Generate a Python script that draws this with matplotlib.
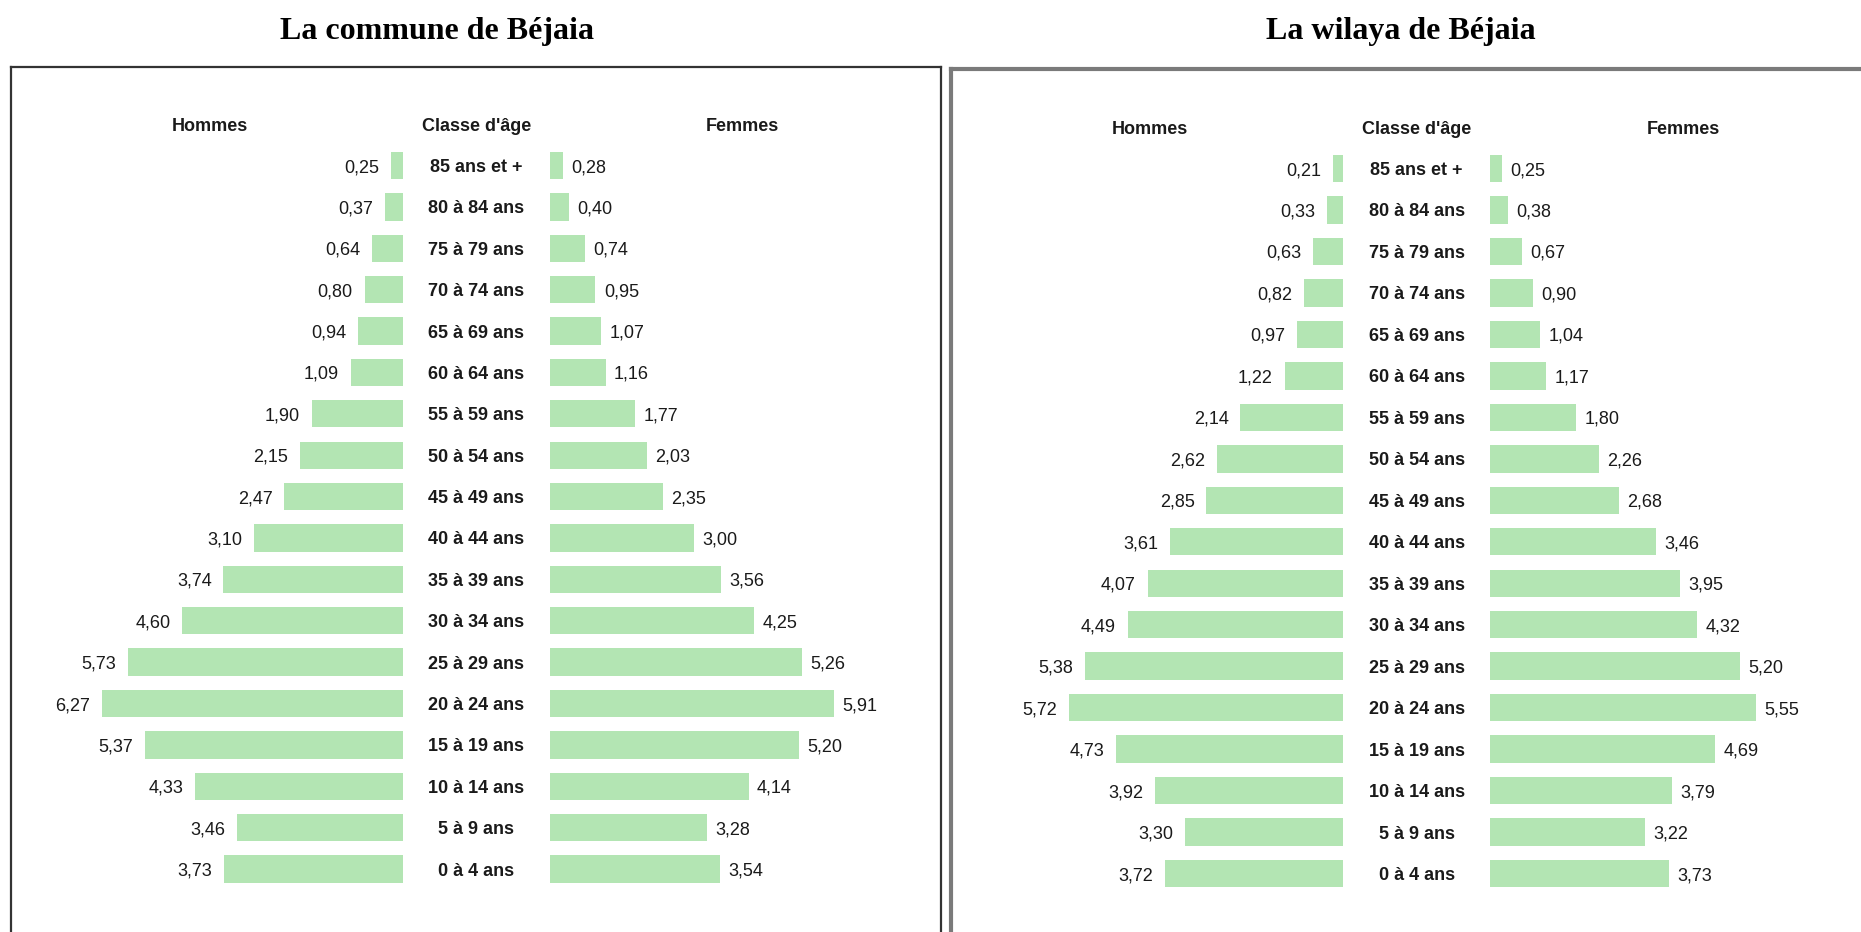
import matplotlib
matplotlib.use("Agg")
import matplotlib.pyplot as plt

# Age pyramid data (% of population)
age_classes = ["85 ans et +", "80 à 84 ans", "75 à 79 ans", "70 à 74 ans", "65 à 69 ans",
               "60 à 64 ans", "55 à 59 ans", "50 à 54 ans", "45 à 49 ans", "40 à 44 ans",
               "35 à 39 ans", "30 à 34 ans", "25 à 29 ans", "20 à 24 ans", "15 à 19 ans",
               "10 à 14 ans", "5 à 9 ans", "0 à 4 ans"]

commune_hommes = [0.25, 0.37, 0.64, 0.80, 0.94, 1.09, 1.90, 2.15, 2.47, 3.10,
                  3.74, 4.60, 5.73, 6.27, 5.37, 4.33, 3.46, 3.73]
commune_femmes = [0.28, 0.40, 0.74, 0.95, 1.07, 1.16, 1.77, 2.03, 2.35, 3.00,
                  3.56, 4.25, 5.26, 5.91, 5.20, 4.14, 3.28, 3.54]

wilaya_hommes = [0.21, 0.33, 0.63, 0.82, 0.97, 1.22, 2.14, 2.62, 2.85, 3.61,
                 4.07, 4.49, 5.38, 5.72, 4.73, 3.92, 3.30, 3.72]
wilaya_femmes = [0.25, 0.38, 0.67, 0.90, 1.04, 1.17, 1.80, 2.26, 2.68, 3.46,
                 3.95, 4.32, 5.20, 5.55, 4.69, 3.79, 3.22, 3.73]

titles = ["La commune de Béjaia", "La wilaya de Béjaia"]
headers = ["Hommes", "Classe d'âge", "Femmes"]

W, H = 1861, 932
DPI = 100
fig = plt.figure(figsize=(W / DPI, H / DPI), dpi=DPI)
fig.patch.set_facecolor("white")

BAR_COLOR = "#b3e5b3"
TEXT_COLOR = "#1a1a1a"
SANS = ["Liberation Sans", "DejaVu Sans"]
SERIF = ["Liberation Serif", "DejaVu Serif"]
HALF_GAP = 1.53  # half of the central gap reserved for the age labels
FS = 13


def fmt(v):
    return f"{v:.2f}".replace(".", ",")


def pyramid(rect_px, xlim, ylim, hommes, femmes, frame_color, frame_lw):
    x0, y_top, x1 = rect_px
    ax = fig.add_axes([x0 / W, 0, (x1 - x0) / W, (H - y_top) / H])
    ax.set_xlim(*xlim)
    ax.set_ylim(*ylim)
    ax.set_xticks([])
    ax.set_yticks([])
    ax.spines["bottom"].set_visible(False)
    for s in ("left", "top", "right"):
        ax.spines[s].set_color(frame_color)
        ax.spines[s].set_linewidth(frame_lw)

    y = list(range(len(age_classes)))
    ax.barh(y, hommes, left=[-HALF_GAP - h for h in hommes], height=0.66,
            color=BAR_COLOR, edgecolor="none")
    ax.barh(y, femmes, left=HALF_GAP, height=0.66,
            color=BAR_COLOR, edgecolor="none")

    for yi, h, f, lab in zip(y, hommes, femmes, age_classes):
        ax.annotate(fmt(h), (-HALF_GAP - h, yi), xytext=(-8.5, 0),
                    textcoords="offset points", ha="right", va="center_baseline",
                    fontsize=FS, family=SANS, color=TEXT_COLOR)
        ax.annotate(fmt(f), (HALF_GAP + f, yi), xytext=(6, 0),
                    textcoords="offset points", ha="left", va="center_baseline",
                    fontsize=FS, family=SANS, color=TEXT_COLOR)
        ax.text(0, yi, lab, ha="center", va="center_baseline", fontsize=FS,
                fontweight="bold", family=SANS, color=TEXT_COLOR)

    for hx, txt in zip([-5.55, 0, 5.55], headers):
        ax.text(hx, -1.0, txt, ha="center", va="center_baseline", fontsize=FS,
                fontweight="bold", family=SANS, color=TEXT_COLOR)
    return ax


pyramid((11, 67, 941), (-9.696, 9.679), (18.52, -2.38),
        commune_hommes, commune_femmes, "#333333", 1.6)
pyramid((951, 69, 1875), (-9.70, 9.55), (18.41, -2.40),
        wilaya_hommes, wilaya_femmes, "#7a7a7a", 3.0)

for cx, t in zip([437, 1400.5], titles):
    fig.text(cx / W, 1 - 32 / H, t, ha="center", va="center",
             fontsize=23, fontweight="bold", family=SERIF, color="black")

fig.savefig("out.png", dpi=DPI, facecolor="white")
